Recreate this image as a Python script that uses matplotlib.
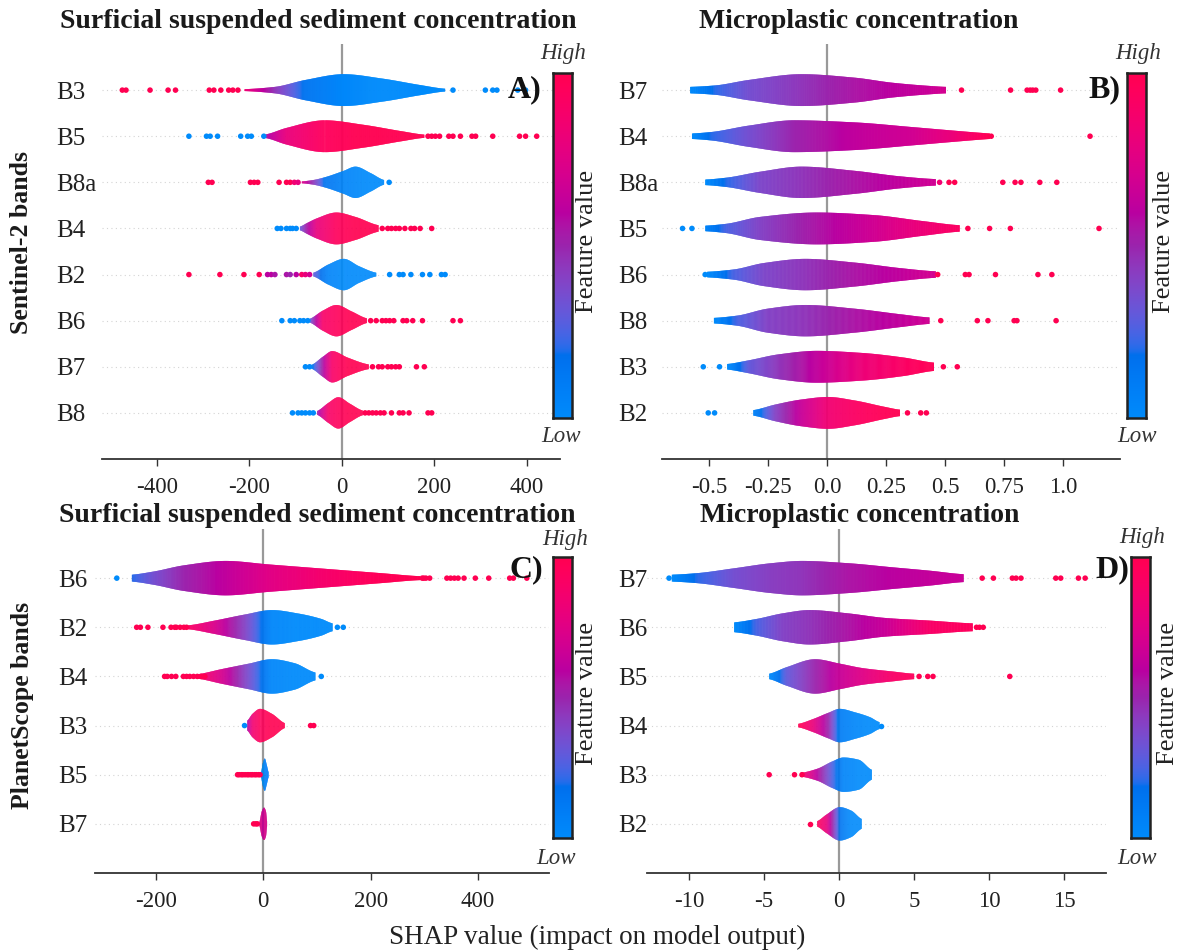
import numpy as np
import matplotlib
matplotlib.use("Agg")
import matplotlib.pyplot as plt
from matplotlib.colors import ListedColormap
from matplotlib.collections import PolyCollection

plt.rcParams["font.family"] = ["Liberation Serif", "DejaVu Serif"]
plt.rcParams["axes.unicode_minus"] = False

# ---------------------------------------------------------------- data
# Each band: violin outline control points (SHAP value, half-width in row
# units, mean feature value 0..1) plus the outlying points (SHAP value,
# feature value).  Bands are listed top to bottom.

# A) Sentinel-2, suspended sediment
a_bands = ["B3", "B5", "B8a", "B4", "B2", "B6", "B7", "B8"]
a_sx = [[-211, -145, -79, 4, 87, 169, 223],
        [-165, -120, -37, 45, 128, 178],
        [-87, -62, -37, 4, 29, 62, 91],
        [-91, -75, -54, -12, 29, 79],
        [-62, -29, 4, 37, 74],
        [-70, -41, -12, 21, 54],
        [-66, -41, -21, 12, 58],
        [-54, -29, -8, 17, 45]]
a_sw = [[0.02, 0.07, 0.22, 0.345, 0.25, 0.11, 0.03],
        [0.04, 0.18, 0.345, 0.25, 0.11, 0.035],
        [0.02, 0.05, 0.11, 0.25, 0.34, 0.20, 0.05],
        [0.04, 0.12, 0.22, 0.345, 0.25, 0.07],
        [0.04, 0.22, 0.34, 0.18, 0.04],
        [0.04, 0.22, 0.34, 0.20, 0.05],
        [0.04, 0.22, 0.34, 0.20, 0.05],
        [0.04, 0.22, 0.34, 0.20, 0.05]]
a_sc = [[0.85, 0.45, 0.15, 0.03, 0.0, 0.0, 0.0],
        [0.55, 0.8, 0.95, 1.0, 1.0, 1.0],
        [0.75, 0.45, 0.15, 0.05, 0.02, 0.0, 0.0],
        [0.3, 0.55, 0.8, 0.95, 1.0, 1.0],
        [0.3, 0.05, 0.0, 0.0, 0.0],
        [0.3, 0.9, 0.95, 1.0, 1.0],
        [0.1, 0.55, 0.9, 1.0, 1.0],
        [0.5, 0.9, 0.95, 1.0, 1.0]]
a_dx = [[-475, -467, -415, -376, -360, -287, -277, -262, -245, -236, -225,
         240, 310, 326, 335, 380, 397],
        [-331, -293, -285, -269, -219, -204, -196, -169,
         186, 194, 202, 211, 231, 240, 256, 281, 289, 326, 384, 397, 421],
        [-289, -281, -198, -190, -182, -136, -120, -112, -103, -95, 102],
        [-140, -132, -120, -112, -107, -99,
         87, 99, 107, 116, 124, 136, 149, 157, 169, 194],
        [-331, -264, -212, -179, -161, -153, -145, -120, -112, -99, -87, -79, -70,
         103, 124, 132, 149, 174, 190, 215, 223],
        [-130, -112, -103, -91, -83, -74,
         62, 74, 87, 95, 103, 112, 132, 140, 153, 174, 240, 256],
        [-79, -70, 66, 79, 87, 99, 107, 116, 124, 161, 178],
        [-107, -95, -87, -79, -70, -62,
         50, 58, 66, 74, 83, 91, 107, 124, 132, 145, 186, 194]]
a_dc = [[1.0] * 11 + [0.0] * 6,
        [0.0] * 8 + [1.0] * 13,
        [1.0] * 8 + [0.85, 0.8, 0.0],
        [0.0] * 6 + [1.0] * 10,
        [1.0, 1.0, 1.0, 1.0, 0.6, 0.6, 0.55, 0.55, 0.5, 0.6, 0.9, 0.8, 0.7]
        + [0.0] * 8,
        [0.0] * 6 + [1.0] * 12,
        [0.0] * 2 + [1.0] * 9,
        [0.0] * 6 + [1.0] * 12]

# B) Sentinel-2, microplastics
b_bands = ["B7", "B4", "B8a", "B5", "B6", "B8", "B3", "B2"]
b_sx = [[-0.582, -0.478, -0.333, -0.109, 0.115, 0.276, 0.436, 0.503],
        [-0.574, -0.494, -0.333, -0.141, 0.115, 0.356, 0.516, 0.660, 0.689],
        [-0.518, -0.429, -0.285, -0.109, 0.115, 0.308, 0.460],
        [-0.518, -0.429, -0.285, -0.045, 0.196, 0.404, 0.561],
        [-0.510, -0.397, -0.269, -0.093, 0.115, 0.308, 0.460],
        [-0.481, -0.381, -0.253, -0.093, 0.115, 0.308, 0.433],
        [-0.425, -0.333, -0.205, -0.045, 0.147, 0.324, 0.452],
        [-0.314, -0.221, -0.109, 0.003, 0.115, 0.244, 0.308]]
b_sw = [[0.07, 0.10, 0.22, 0.345, 0.27, 0.16, 0.09, 0.07],
        [0.06, 0.09, 0.23, 0.345, 0.30, 0.20, 0.13, 0.07, 0.06],
        [0.06, 0.10, 0.23, 0.34, 0.25, 0.13, 0.07],
        [0.06, 0.10, 0.25, 0.345, 0.29, 0.16, 0.07],
        [0.06, 0.11, 0.25, 0.34, 0.26, 0.14, 0.07],
        [0.06, 0.11, 0.26, 0.34, 0.26, 0.14, 0.07],
        [0.06, 0.14, 0.27, 0.345, 0.30, 0.20, 0.09],
        [0.06, 0.18, 0.29, 0.345, 0.27, 0.13, 0.07]]
b_sc = [[0.0, 0.2, 0.35, 0.45, 0.55, 0.6, 0.65, 0.7],
        [0.0, 0.2, 0.35, 0.5, 0.62, 0.68, 0.8, 0.95, 1.0],
        [0.0, 0.2, 0.38, 0.45, 0.55, 0.62, 0.68],
        [0.05, 0.25, 0.4, 0.55, 0.68, 0.82, 0.93],
        [0.0, 0.25, 0.38, 0.45, 0.55, 0.62, 0.7],
        [0.0, 0.25, 0.4, 0.45, 0.55, 0.62, 0.68],
        [0.0, 0.3, 0.45, 0.62, 0.82, 0.92, 0.98],
        [0.05, 0.4, 0.65, 0.85, 0.92, 0.98, 1.0]]
b_dx = [[0.569, 0.777, 0.847, 0.860, 0.871, 0.884, 0.989],
        [0.695, 1.114],
        [0.476, 0.516, 0.540, 0.744, 0.796, 0.821, 0.901, 0.973],
        [-0.614, -0.574, 0.596, 0.688, 0.776, 1.152],
        [-0.518, 0.468, 0.585, 0.601, 0.713, 0.893, 0.952],
        [0.481, 0.636, 0.681, 0.792, 0.804, 0.970],
        [-0.526, -0.457, 0.492, 0.551],
        [-0.505, -0.478, 0.340, 0.396, 0.420]]
b_dc = [[1.0] * 7,
        [1.0] * 2,
        [0.85] + [1.0] * 7,
        [0.0] * 2 + [1.0] * 4,
        [0.0] + [1.0] * 6,
        [1.0] * 6,
        [0.0] * 2 + [1.0] * 2,
        [0.0] * 2 + [1.0] * 3]

# C) PlanetScope, suspended sediment
c_bands = ["B6", "B2", "B4", "B3", "B5", "B7"]
c_sx = [[-245, -204, -148, -70, 9, 115, 221, 292],
        [-140, -91, -34, 16, 65, 108, 129],
        [-126, -77, -27, 16, 58, 97],
        [-30, -20, -6, 16, 40],
        [-4.3, -0.7, 2.8, 6.4, 9.9],
        [-7, -3, 1.4, 5, 7]]
c_sw = [[0.07, 0.135, 0.26, 0.35, 0.28, 0.19, 0.10, 0.04],
        [0.04, 0.135, 0.26, 0.35, 0.28, 0.17, 0.08],
        [0.04, 0.15, 0.26, 0.35, 0.27, 0.08],
        [0.10, 0.24, 0.34, 0.24, 0.05],
        [0.05, 0.24, 0.33, 0.20, 0.05],
        [0.05, 0.25, 0.33, 0.25, 0.05]]
c_sc = [[0.2, 0.35, 0.5, 0.62, 0.75, 0.88, 0.97, 1.0],
        [0.92, 0.72, 0.4, 0.03, 0.0, 0.0, 0.0],
        [0.95, 0.7, 0.35, 0.03, 0.0, 0.0],
        [0.55, 0.85, 0.95, 1.0, 1.0],
        [0.03, 0.03, 0.03, 0.03, 0.03],
        [0.72, 0.7, 0.7, 0.7, 0.7]]
c_dx = [[-273, 296, 299, 303, 310, 342, 349, 356, 363, 374, 395, 420, 459, 466, 491],
        [-236, -229, -215, -187, -172, -165, -162, -155, -148, -143, 138, 149],
        [-184, -179, -171, -163, -149, -143, -137, -130, -123, -116, -109, 108],
        [-35, 88, 94],
        [-48, -45, -41, -38, -34, -30, -27, -23, -20, -16, -13, -9, -6],
        [-18, -14, -11]]
c_dc = [[0.0] + [1.0] * 14,
        [1.0] * 10 + [0.0] * 2,
        [1.0] * 11 + [0.0],
        [0.0, 1.0, 1.0],
        [1.0] * 13,
        [1.0] * 3]

# D) PlanetScope, microplastics
d_bands = ["B7", "B6", "B5", "B4", "B3", "B2"]
d_sx = [[-11.16, -9.52, -7.0, -4.48, -2.47, 0.55, 3.58, 6.10, 8.31],
        [-7.0, -5.49, -3.73, -1.96, 0.55, 3.07, 6.10, 8.92],
        [-4.66, -3.48, -1.59, 0.05, 1.56, 3.58, 5.01],
        [-2.72, -1.71, -0.71, 0.05, 1.06, 2.07, 2.70],
        [-2.59, -1.46, -0.45, 0.30, 1.31, 2.19],
        [-1.46, -0.83, 0.05, 0.81, 1.51]]
d_sw = [[0.07, 0.10, 0.20, 0.305, 0.35, 0.305, 0.22, 0.15, 0.08],
        [0.10, 0.17, 0.285, 0.35, 0.285, 0.19, 0.135, 0.08],
        [0.055, 0.19, 0.35, 0.26, 0.17, 0.10, 0.055],
        [0.035, 0.135, 0.26, 0.34, 0.27, 0.17, 0.07],
        [0.035, 0.12, 0.27, 0.35, 0.305, 0.10],
        [0.055, 0.19, 0.34, 0.27, 0.10]]
d_sc = [[0.0, 0.2, 0.35, 0.42, 0.45, 0.55, 0.6, 0.63, 0.65],
        [0.0, 0.25, 0.4, 0.45, 0.55, 0.65, 0.9, 0.95],
        [0.0, 0.3, 0.5, 0.65, 0.75, 0.9, 0.95],
        [1.0, 0.8, 0.5, 0.1, 0.03, 0.0, 0.0],
        [0.95, 0.6, 0.25, 0.05, 0.0, 0.0],
        [0.95, 0.8, 0.15, 0.0, 0.0]]
d_dx = [[-11.34, 9.55, 10.30, 11.56, 11.81, 12.14, 14.46, 14.79, 15.97, 16.42],
        [9.17, 9.37, 9.62],
        [5.34, 5.92, 6.27, 11.39],
        [2.77],
        [-4.66, -2.97, -2.47],
        [-1.96]]
d_dc = [[0.0] + [1.0] * 9,
        [1.0] * 3,
        [1.0] * 4,
        [0.0],
        [1.0] * 3,
        [1.0]]


# ---------------------------------------------------------------- colours
def lab_to_rgb(L, a, b):
    fy = (L + 16.0) / 116.0
    fx = fy + a / 500.0
    fz = fy - b / 200.0
    d = 6.0 / 29.0

    def finv(t):
        return np.where(t > d, t ** 3, 3 * d * d * (t - 4.0 / 29.0))

    xyz = np.vstack([0.95047 * finv(fx), finv(fy), 1.08883 * finv(fz)])
    m = np.array([[3.2404542, -1.5371385, -0.4985314],
                  [-0.9692660, 1.8760108, 0.0415560],
                  [0.0556434, -0.2040259, 1.0572252]])
    rgb = m @ xyz
    rgb = np.where(rgb > 0.0031308,
                   1.055 * np.clip(rgb, 1e-9, None) ** (1 / 2.4) - 0.055,
                   12.92 * rgb)
    return np.clip(rgb.T, 0, 1)


def red_blue_cmap():
    n = 256
    L = np.concatenate([np.linspace(54, 40, n // 2), np.linspace(40, 54, n // 2)])
    C = np.linspace(70, 90, n)
    H = np.linspace(4.6588, 0.35470565 + 2 * np.pi, n)
    return ListedColormap(lab_to_rgb(L, C * np.cos(H), C * np.sin(H)))


CMAP = red_blue_cmap()


# ---------------------------------------------------------------- helpers
def pchip(x, y, xn):
    x = np.asarray(x, float)
    y = np.asarray(y, float)
    h = np.diff(x)
    dl = np.diff(y) / h
    m = np.zeros_like(y)
    for k in range(1, len(x) - 1):
        if dl[k - 1] * dl[k] > 0:
            w1 = 2 * h[k] + h[k - 1]
            w2 = h[k] + 2 * h[k - 1]
            m[k] = (w1 + w2) / (w1 / dl[k - 1] + w2 / dl[k])
    m[0] = dl[0] * 0.5
    m[-1] = dl[-1] * 0.5
    i = np.clip(np.searchsorted(x, xn) - 1, 0, len(h) - 1)
    t = (xn - x[i]) / h[i]
    h00 = 2 * t ** 3 - 3 * t ** 2 + 1
    h10 = t ** 3 - 2 * t ** 2 + t
    h01 = -2 * t ** 3 + 3 * t ** 2
    h11 = t ** 3 - t ** 2
    return h00 * y[i] + h10 * h[i] * m[i] + h01 * y[i + 1] + h11 * h[i] * m[i + 1]


def draw_violin(ax, row, sx, sw, sc):
    xs = np.linspace(sx[0], sx[-1], 400)
    ws = np.clip(pchip(sx, sw, xs), 0.005, None)
    cs = np.interp(xs, sx, sc)
    polys, cols = [], []
    for k in range(len(xs) - 1):
        k2 = min(k + 2, len(xs) - 1)
        polys.append([(xs[k], row - ws[k]), (xs[k2], row - ws[k2]),
                      (xs[k2], row + ws[k2]), (xs[k], row + ws[k])])
        cols.append(CMAP(0.5 * (cs[k] + cs[k + 1])))
    ax.add_collection(PolyCollection(polys, facecolors=cols, edgecolors="none",
                                     linewidths=0, zorder=2))


def draw_panel(ax, bands, sx, sw, sc, dx, dc, xlim, ticks, ticklabels, lab_pad):
    n = len(bands)
    for i in range(n):
        row = n - 1 - i
        ax.axhline(row, color="#d4d4d4", lw=0.8, dashes=(1, 3), zorder=0)
        draw_violin(ax, row, sx[i], sw[i], sc[i])
        ax.scatter(dx[i], [row] * len(dx[i]), c=CMAP(np.asarray(dc[i])),
                   s=16, linewidths=0, zorder=3)
    ax.axvline(0, color="#999999", lw=1.6, zorder=1)
    ax.set_xlim(*xlim)
    ax.set_ylim(-1, n)
    ax.set_xticks(ticks)
    ax.set_xticklabels(ticklabels, fontsize=16.5, color="#222222")
    ax.set_yticks(range(n))
    ax.set_yticklabels(bands[::-1], fontsize=18, color="#222222")
    for t in ax.get_yticklabels():
        t.set_horizontalalignment("left")
    ax.tick_params(axis="y", length=0, pad=lab_pad)
    ax.tick_params(axis="x", length=5, width=1.0, color="#333333", pad=8,
                   direction="out")
    for s in ("top", "right", "left"):
        ax.spines[s].set_visible(False)
    ax.spines["bottom"].set_color("#333333")
    ax.spines["bottom"].set_linewidth(1.3)
    ax.set_facecolor("none")


# ---------------------------------------------------------------- figure
W, H = 1181, 952
fig = plt.figure(figsize=(W / 100, H / 100), dpi=100)


def rect(x0, y0, x1, y1):
    return [x0 / W, 1 - y1 / H, (x1 - x0) / W, (y1 - y0) / H]


def fig_text(x, y, s, **kw):
    fig.text(x / W, 1 - y / H, s, ha="center", va="center", **kw)


ax_a = fig.add_axes(rect(102, 44, 560, 459))
ax_b = fig.add_axes(rect(662, 44, 1120, 459))
ax_c = fig.add_axes(rect(95, 529, 549, 873))
ax_d = fig.add_axes(rect(647, 529, 1106, 873))

draw_panel(ax_a, a_bands, a_sx, a_sw, a_sc, a_dx, a_dc, (-518.9, 471.4),
           [-400, -200, 0, 200, 400], ["-400", "-200", "0", "200", "400"], 33)
draw_panel(ax_b, b_bands, b_sx, b_sw, b_sc, b_dx, b_dc, (-0.701, 1.241),
           [-0.5, -0.25, 0.0, 0.25, 0.5, 0.75, 1.0],
           ["-0.5", "-0.25", "0.0", "0.25", "0.5", "0.75", "1.0"], 31.5)
draw_panel(ax_c, c_bands, c_sx, c_sw, c_sc, c_dx, c_dc, (-313.6, 532.3),
           [-200, 0, 200, 400], ["-200", "0", "200", "400"], 26.5)
draw_panel(ax_d, d_bands, d_sx, d_sw, d_sc, d_dx, d_dc, (-12.81, 17.81),
           [-10, -5, 0, 5, 10, 15], ["-10", "-5", "0", "5", "10", "15"], 21)

# colour bars
grad = np.linspace(0, 1, 256)[:, None]
for (x0, y0, x1, y1), fv_x, hi, lo in [
        ((553, 73, 572, 418), 587, (563, 53), (561, 437)),
        ((1127, 73, 1146, 418), 1164, (1138, 53), (1137, 437)),
        ((553, 557, 572, 838), 587, (565, 540), (556, 858)),
        ((1131, 557, 1150, 838), 1168, (1142, 537), (1137, 858))]:
    cax = fig.add_axes(rect(x0, y0, x1, y1))
    cax.imshow(grad, cmap=CMAP, aspect="auto", origin="lower",
               extent=(0, 1, 0, 1))
    cax.set_xticks([])
    cax.set_yticks([])
    for s in cax.spines.values():
        s.set_linewidth(1.8)
        s.set_color("#222222")
    fig_text(fv_x, (y0 + y1) / 2 - 4, "Feature value", rotation=90, fontsize=19,
             color="#222222")
    fig_text(hi[0], hi[1], "High", fontsize=16.5, style="italic", color="#333333")
    fig_text(lo[0], lo[1], "Low", fontsize=16.5, style="italic", color="#333333")

# titles, panel letters and axis labels
title_kw = dict(fontsize=20, fontweight="bold", color="#1a1a1a")
fig_text(318, 21, "Surficial suspended sediment concentration", **title_kw)
fig_text(859, 21, "Microplastic concentration", **title_kw)
fig_text(317, 515, "Surficial suspended sediment concentration", **title_kw)
fig_text(860, 515, "Microplastic concentration", **title_kw)

letter_kw = dict(fontsize=23, fontweight="bold", color="#111111", zorder=5)
fig_text(525, 90, "A)", **letter_kw)
fig_text(1104, 90, "B)", **letter_kw)
fig_text(526, 570, "C)", **letter_kw)
fig_text(1112, 570, "D)", **letter_kw)

fig_text(22, 243, "Sentinel-2 bands", rotation=90, fontsize=18.5,
         fontweight="bold", color="#1a1a1a")
fig_text(23, 705, "PlanetScope bands", rotation=90, fontsize=18.5,
         fontweight="bold", color="#1a1a1a")
fig_text(597, 937, "SHAP value (impact on model output)", fontsize=19.5,
         color="#222222")

fig.savefig("out.png", dpi=100)
